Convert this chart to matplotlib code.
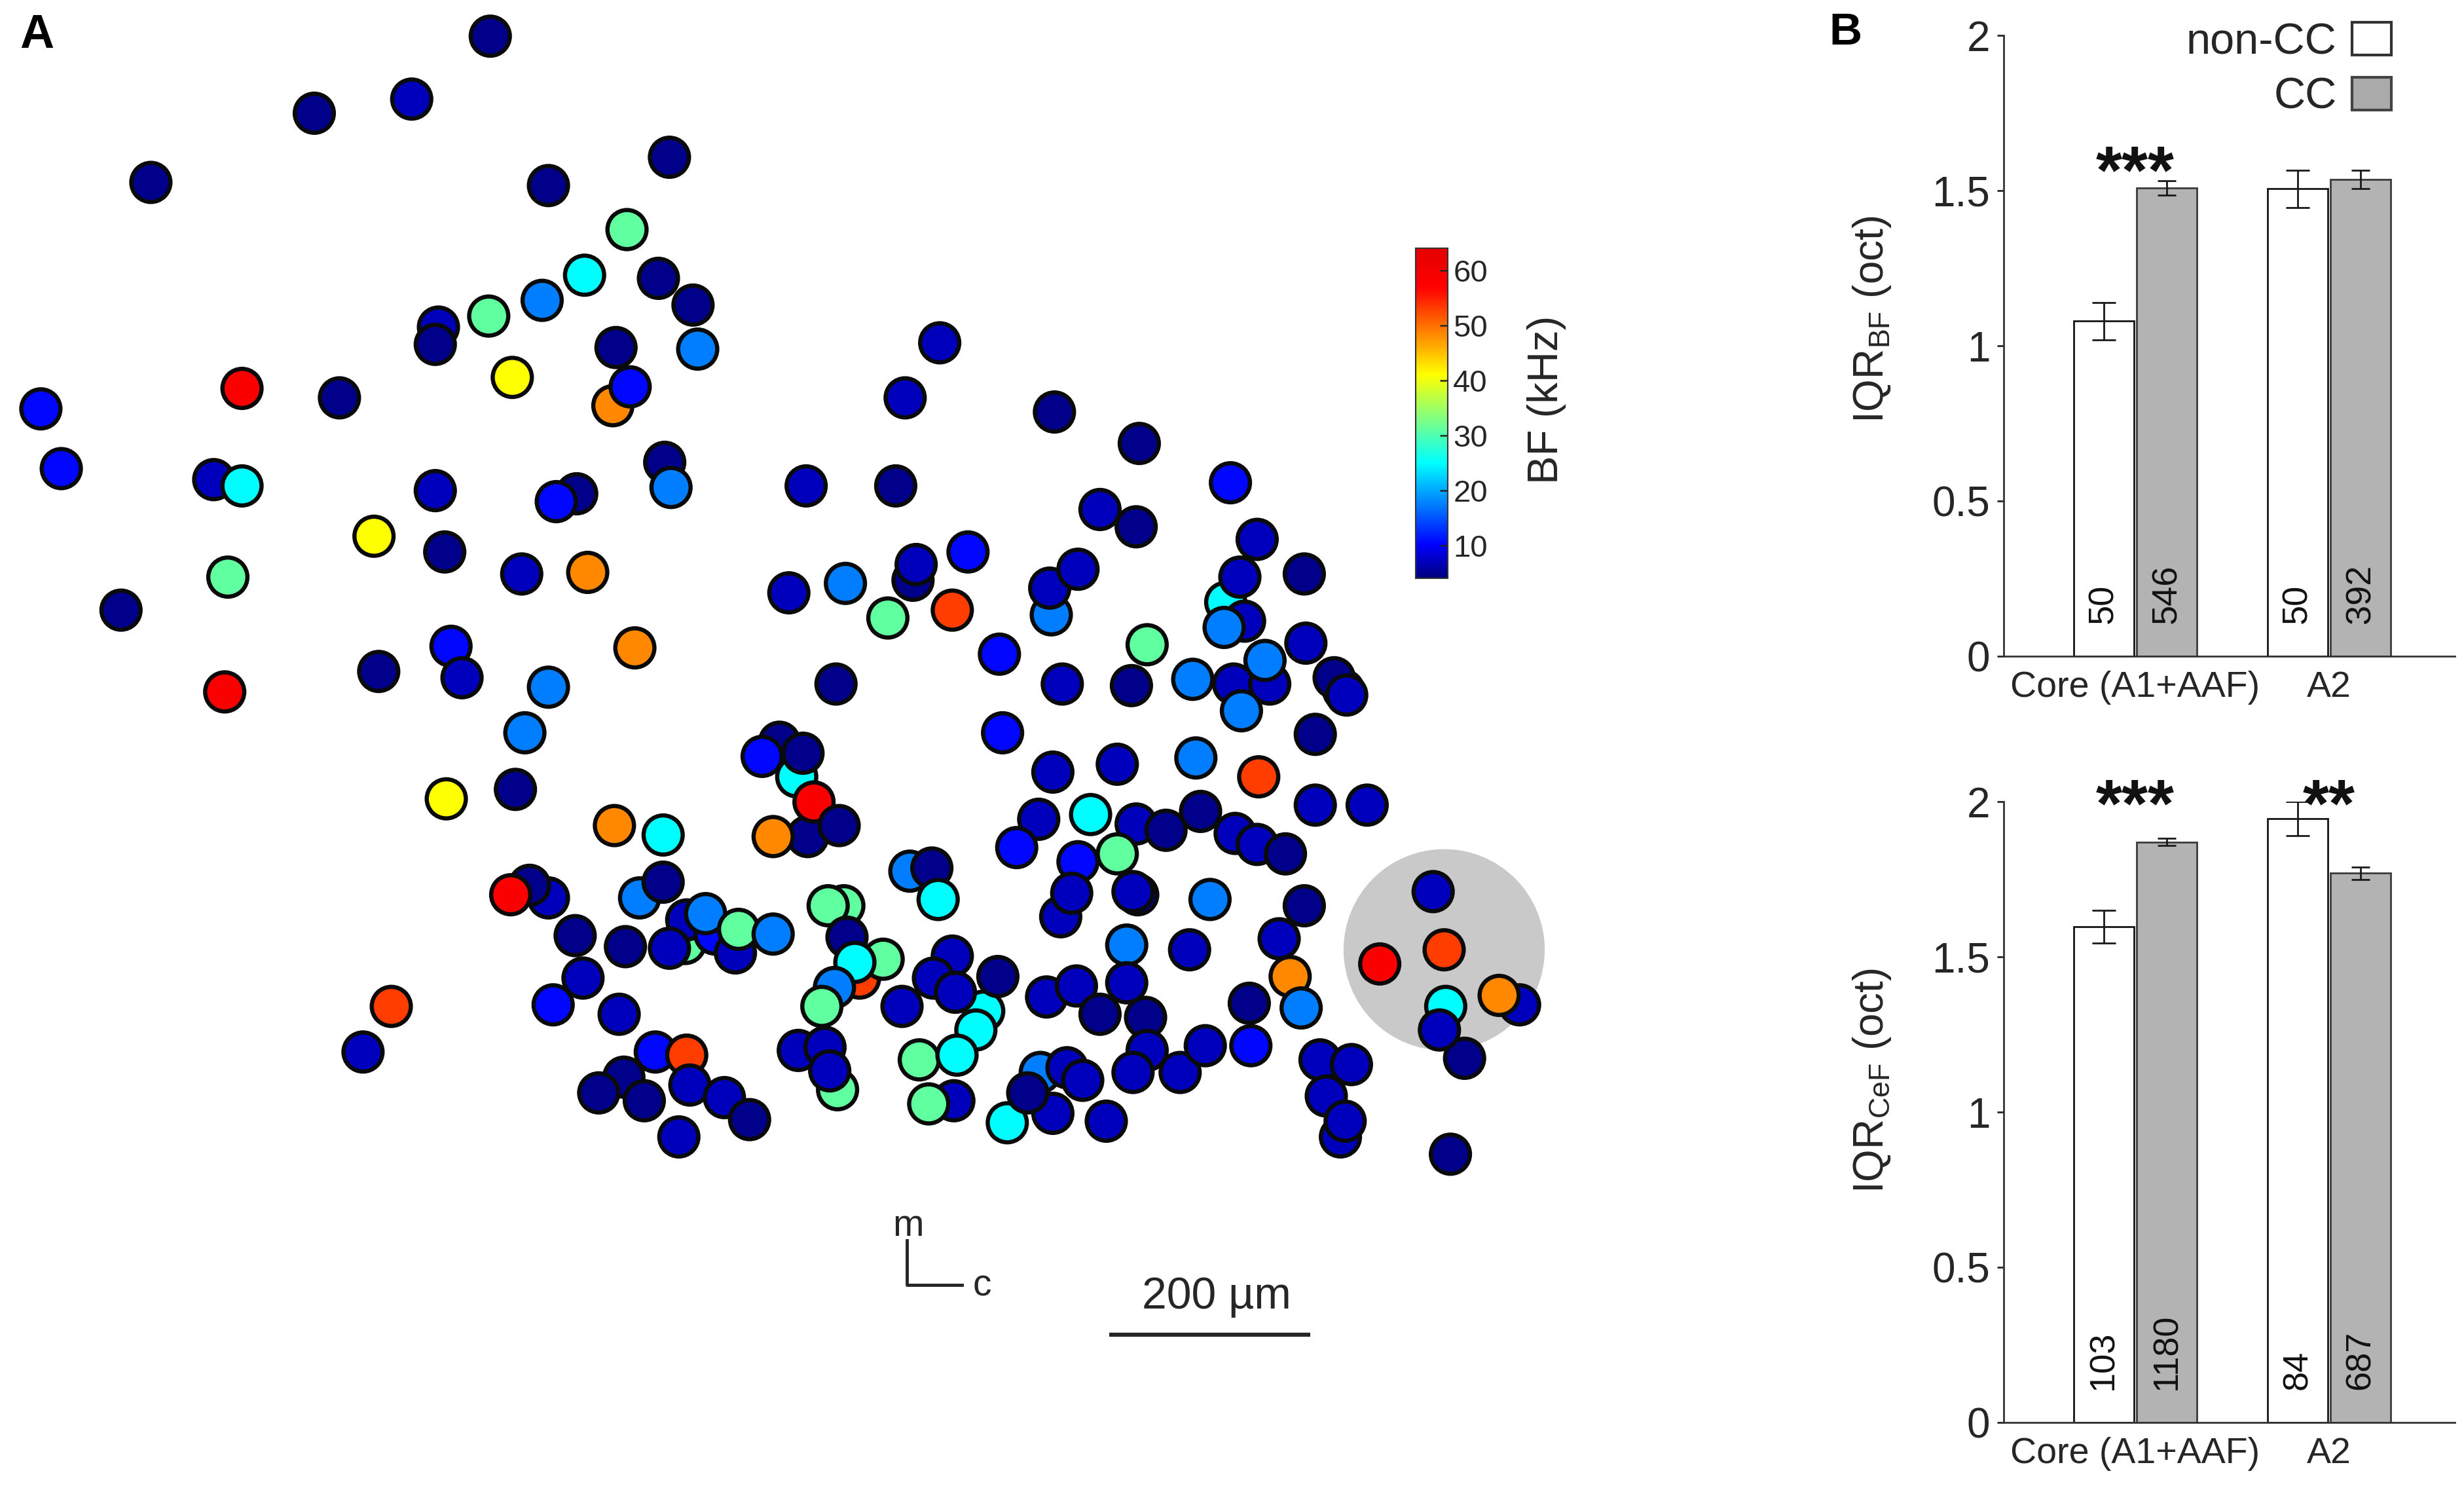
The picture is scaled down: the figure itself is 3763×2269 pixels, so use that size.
import matplotlib.pyplot as plt
import numpy as np
from matplotlib.cm import ScalarMappable
from matplotlib.colors import LinearSegmentedColormap, Normalize
from matplotlib.patches import Circle, Patch

plt.rcParams["font.family"] = ["Liberation Sans", "DejaVu Sans"]
plt.rcParams["mathtext.fontset"] = "custom"
plt.rcParams["mathtext.rm"] = "Liberation Sans"
plt.rcParams["mathtext.it"] = "Liberation Sans:italic"

TEXT = "#262626"

# ---------------- panel A: cell positions (map units) and best frequency (kHz)
cell_x = [
    312, 262, 200, 96, 426, 349, 399, 372, 419, 441, 345, 311, 279, 277, 392, 444,
    326, 390, 401, 154, 216, 26, 39, 136, 154, 277, 367, 354, 423, 427, 238, 283,
    332, 374, 145, 77, 287, 294, 241, 404, 349, 143, 334, 328, 284, 391, 422,
    349, 337, 325, 366, 371, 352, 394, 407, 422, 436, 437, 455, 468, 449, 470,
    492, 398, 426, 249, 231, 417, 437, 439, 397, 381, 410, 461, 477, 432,
    507, 496, 511, 485, 514, 518, 534, 492, 532,
    537, 527, 539, 547, 562, 544, 531, 523, 574, 533, 508, 525, 528, 579, 593, 597,
    606, 626, 594, 608, 635, 621, 585, 609, 607, 591,
    598, 576, 671, 725, 783, 513, 570, 700, 723, 800, 616, 581, 583, 538, 502, 669,
    668, 686, 780, 789, 792, 779, 830, 565, 606, 730, 831, 636, 676, 720, 759, 785,
    808, 805, 790, 855, 849, 857, 837, 638, 761, 801, 670, 711, 837, 870,
    661, 647, 694, 723, 742, 686, 711, 764, 786, 800, 818, 675, 682, 724, 721, 770,
    830, 717, 757, 666, 685, 729, 700, 717, 730, 721, 751, 767, 662, 679, 689, 641,
    670, 654, 704, 814, 821, 828, 795, 796, 840, 860, 844, 853, 856, 923,
    912, 878, 919, 967, 954, 932, 920, 916,
]
cell_y = [
    23, 63, 72, 116, 100, 118, 146, 175, 177, 194, 191, 201, 208, 219, 221, 222,
    240, 258, 246, 247, 253, 260, 298, 305, 309, 312, 314, 319, 294, 310, 341, 351,
    365, 364, 367, 388, 411, 431, 427, 412, 437, 440, 466, 502, 508, 525, 531,
    571, 563, 569, 595, 622, 639, 645, 571, 561, 600, 585, 594, 606, 581, 591,
    594, 602, 603, 640, 669, 669, 671, 690, 685, 695, 700, 698, 712, 723,
    494, 472, 479, 481, 532, 510, 525, 532, 435,
    576, 576, 596, 622, 610, 612, 628, 640, 640, 693, 668, 666, 681, 554, 552, 572,
    608, 643, 622, 631, 621, 655, 674, 671, 700, 702,
    218, 253, 262, 282, 307, 309, 309, 324, 335, 343, 351, 369, 359, 371, 377, 391,
    374, 362, 383, 367, 395, 399, 365, 393, 388, 410, 409, 416, 435, 436, 432, 435,
    435, 420, 452, 439, 431, 442, 467, 466, 482, 494, 491, 486, 512, 512,
    521, 539, 518, 524, 528, 548, 543, 516, 530, 537, 543, 583, 568, 569, 567, 572,
    576, 601, 604, 634, 627, 647, 645, 625, 668, 682, 682, 665, 682, 679, 687, 714,
    708, 695, 713, 597, 621, 641, 638, 665, 674, 677, 697, 723, 713, 734,
    567, 613, 604, 639, 633, 673, 640, 655,
]
cell_bf = [
    4.5, 7, 4.5, 4.5, 4.5, 4.5, 31, 25, 4.5, 4.5, 17.5, 31, 7, 4.5, 4.5, 17.5,
    41, 48.5, 10.5, 58, 4.5, 10.5, 10.5, 7, 25, 7, 4.5, 10.5, 4.5, 17.5, 41, 4.5,
    7, 48.5, 31, 4.5, 10.5, 7, 4.5, 48.5, 17.5, 58, 17.5, 4.5, 41, 48.5, 25,
    7, 4.5, 58, 4.5, 7, 10.5, 7, 17.5, 4.5, 31, 7, 10.5, 7, 17.5, 31,
    17.5, 4.5, 7, 53, 7, 10.5, 53, 7, 4.5, 4.5, 4.5, 7, 4.5, 7,
    25, 4.5, 4.5, 10.5, 4.5, 58, 4.5, 48.5, 4.5,
    31, 31, 4.5, 53, 31, 25, 17.5, 31, 7, 31, 7, 7, 7, 17.5, 4.5, 25,
    7, 25, 7, 7, 4.5, 25, 31, 25, 7, 31,
    7, 7, 4.5, 4.5, 10.5, 7, 4.5, 7, 4.5, 7, 10.5, 4.5, 7, 17.5, 7, 17.5,
    7, 7, 25, 7, 7, 17.5, 4.5, 31, 53, 31, 7, 10.5, 7, 4.5, 17.5, 7,
    7, 17.5, 17.5, 25, 4.5, 7, 4.5, 10.5, 17.5, 53, 7, 7, 7, 7,
    7, 10.5, 25, 7, 4.5, 10.5, 31, 4.5, 7, 7, 4.5, 7, 7, 4.5, 7, 17.5,
    4.5, 17.5, 7, 7, 7, 4.5, 4.5, 7, 7, 7, 7, 7, 17.5, 7, 7, 25,
    7, 4.5, 7, 7, 48.5, 17.5, 4.5, 10.5, 7, 7, 7, 7, 7, 4.5,
    7, 58, 53, 7, 48.5, 4.5, 25, 7,
]
highlight_center = (919, 604)
highlight_radius = 64
scale_bar_um = 200
scale_bar_units = 128

bf_ticks = [10, 20, 30, 40, 50, 60]
bf_range = (4, 64)

# ---------------- panel B data
groups = ["Core (A1+AAF)", "A2"]
bf_noncc = [1.08, 1.506]
bf_noncc_err = [0.06, 0.06]
bf_cc = [1.508, 1.536]
bf_cc_err = [0.023, 0.03]
bf_n_noncc = [50, 50]
bf_n_cc = [546, 392]
bf_stars = ["***", ""]

cef_noncc = [1.597, 1.945]
cef_noncc_err = [0.053, 0.054]
cef_cc = [1.870, 1.770]
cef_cc_err = [0.012, 0.02]
cef_n_noncc = [103, 84]
cef_n_cc = [1180, 687]
cef_stars = ["***", "**"]

# jet-like map as in the colour bar
jet_like = LinearSegmentedColormap.from_list(
    "jet_like",
    [(0.0, (0, 0, 0.5)), (0.1, (0, 0, 1)), (0.35, (0, 1, 1)),
     (0.617, (1, 1, 0)), (0.883, (1, 0, 0)), (1.0, (0.9, 0, 0))],
)
norm = Normalize(*bf_range)

fig = plt.figure(figsize=(37.63, 22.69), dpi=100)

# ---------------- panel A
ax_map = fig.add_axes([0, 0, 1000 / 1568, 1])
ax_map.set_xlim(0, 1000)
ax_map.set_ylim(945, 0)
ax_map.axis("off")

ax_map.add_patch(Circle(highlight_center, highlight_radius, facecolor="#c9c9c9",
                        edgecolor="none", zorder=1))
ax_map.scatter(cell_x, cell_y, c=cell_bf, cmap=jet_like, norm=norm, s=1850,
               edgecolors="#0a0a0a", linewidths=4.6, zorder=3)

# scale bar and orientation
sb_x0 = 706
ax_map.plot([sb_x0, sb_x0 + scale_bar_units], [849, 849], color=TEXT, lw=4.5,
            solid_capstyle="butt")
ax_map.text(sb_x0 + scale_bar_units / 2 + 4, 832, f"{scale_bar_um} µm",
            ha="center", va="baseline", fontsize=49, color=TEXT)
ax_map.plot([577, 577, 612], [789, 817, 817], color=TEXT, lw=3.5)
ax_map.text(578, 786, "m", ha="center", va="baseline", fontsize=41, color=TEXT)
ax_map.text(619, 824, "c", ha="left", va="baseline", fontsize=41, color=TEXT)

# colour bar
cax = fig.add_axes([2162 / 3763, 1 - 883 / 2269, 49 / 3763, 504 / 2269])
cb = fig.colorbar(ScalarMappable(norm=norm, cmap=jet_like), cax=cax)
cb.set_ticks(bf_ticks)
cax.tick_params(direction="in", length=9, width=1.8, labelsize=34,
                colors=TEXT, pad=6)
cb.outline.set_linewidth(1.5)
cb.outline.set_edgecolor("#333333")
fig.text(2362 / 3763, 1 - 610 / 2269, "BF (kHz)", rotation=90, ha="center",
         va="center", fontsize=47, color=TEXT)

fig.text(30 / 3763, 1 - 20 / 2269, "A", fontsize=52, weight="bold", va="top",
         ha="left")
fig.text(2793 / 3763, 1 - 18 / 2269, "B", fontsize=50, weight="bold", va="top",
         ha="left")


# ---------------- panel B
def draw_bars(ax, noncc, noncc_err, cc, cc_err, n_noncc, n_cc, stars, star_y,
              ylabel, label_y):
    xc = np.arange(1, len(groups) + 1)
    w, off = 0.31, 0.163
    ax.bar(xc - off, noncc, w, color="white", edgecolor="#151515", lw=2,
           zorder=2)
    ax.bar(xc + off, cc, w, color="#b3b3b3", edgecolor="#3a3a3a", lw=2,
           zorder=2)
    ax.errorbar(xc - off, noncc, yerr=noncc_err, fmt="none", ecolor="#1a1a1a",
                elinewidth=2, capsize=13, capthick=2, zorder=3)
    ax.errorbar(xc + off, cc, yerr=cc_err, fmt="none", ecolor="#1a1a1a",
                elinewidth=2, capsize=10, capthick=2, zorder=3)
    for i in range(len(groups)):
        ax.text(xc[i] - off, 0.105, str(n_noncc[i]), rotation=90, ha="center",
                va="bottom", fontsize=39, color="#111111", zorder=4)
        ax.text(xc[i] + off, 0.105, str(n_cc[i]), rotation=90, ha="center",
                va="bottom", fontsize=39, color="#111111", zorder=4)
        if stars[i]:
            ax.text(xc[i], star_y, stars[i], ha="center", va="baseline",
                    fontsize=74, weight="bold", color="#111111", clip_on=False)
    ax.set_xlim(0.321, 2.649)
    ax.set_ylim(0, 2)
    ax.set_xticks(xc)
    ax.set_xticklabels(groups)
    ax.set_yticks([0, 0.5, 1, 1.5, 2])
    ax.set_yticklabels(["0", "0.5", "1", "1.5", "2"])
    for s in ("top", "right"):
        ax.spines[s].set_visible(False)
    for s in ("left", "bottom"):
        ax.spines[s].set_linewidth(2)
        ax.spines[s].set_color("#333333")
    ax.tick_params(axis="y", direction="out", length=7, width=2, labelsize=46,
                   colors=TEXT, pad=8)
    ax.tick_params(axis="x", length=0, labelsize=40, colors=TEXT, pad=16)
    ax.set_ylabel(ylabel, fontsize=46, color=TEXT)
    ax.yaxis.set_label_coords(-0.245, label_y)


ax_top = fig.add_axes([3060 / 3763, 1 - 1002 / 2269, 689 / 3763, 948 / 2269])
draw_bars(ax_top, bf_noncc, bf_noncc_err, bf_cc, bf_cc_err, bf_n_noncc,
          bf_n_cc, bf_stars, 1.49, r"IQR$_{\mathrm{BF}}$ (oct)", 0.542)

ax_bot = fig.add_axes([3060 / 3763, 1 - 2172 / 2269, 689 / 3763, 948 / 2269])
draw_bars(ax_bot, cef_noncc, cef_noncc_err, cef_cc, cef_cc_err, cef_n_noncc,
          cef_n_cc, cef_stars, 1.92, r"IQR$_{\mathrm{CeF}}$ (oct)", 0.55)

handles = [Patch(facecolor="white", edgecolor="#333333", lw=3),
           Patch(facecolor="#aaaaaa", edgecolor="#444444", lw=3)]
ax_top.legend(handles, ["non-CC", "CC"], loc="upper right",
              bbox_to_anchor=(3652 / 3763, 1 - 34 / 2269),
              bbox_transform=fig.transFigure, frameon=False, markerfirst=False,
              fontsize=48, labelcolor=TEXT, handlelength=0.9, handleheight=0.78,
              handletextpad=0.35, labelspacing=0.32, borderpad=0,
              borderaxespad=0)

fig.savefig("out.png", dpi=100)
